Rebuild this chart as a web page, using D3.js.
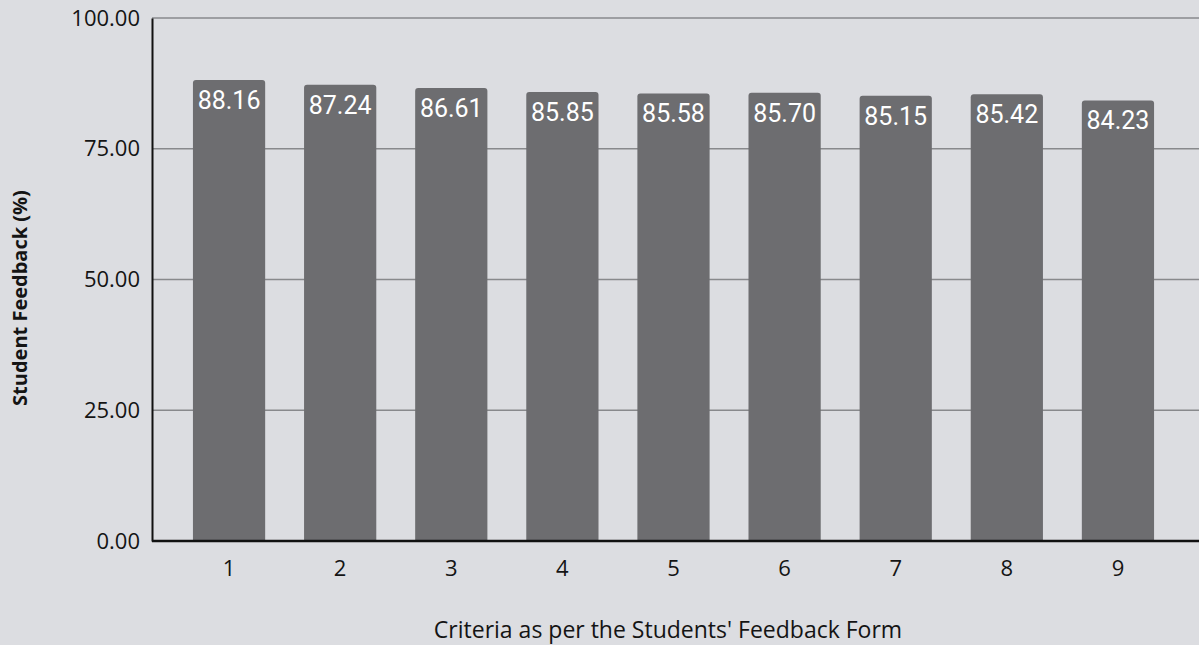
<!DOCTYPE html>
<html><head><meta charset="utf-8">
<script src="https://cdn.jsdelivr.net/npm/d3@7"></script>
<style>
html,body{margin:0;padding:0;background:#dcdde1;}
svg{display:block;}
</style></head>
<body>
<svg id="chart" width="1199" height="645"></svg>
<script>
const categories = ["1","2","3","4","5","6","7","8","9"];
const values = [88.16, 87.24, 86.61, 85.85, 85.58, 85.70, 85.15, 85.42, 84.23];
const yTicks = [0, 25, 50, 75, 100];
const yTitle = "Student Feedback (%)";
const xTitle = "Criteria as per the Students' Feedback Form";

(function () {
const svg = d3.select("#chart");
const W = 1199, H = 645;
const mLeft = 152, mRight = 1199, mTop = 18, mBottom = 541;

svg.append("rect").attr("width", W).attr("height", H).attr("fill", "#dcdde1");

const x = d3.scaleBand().domain(categories).range([173.5, 1173.5]).paddingInner(0.35).paddingOuter(0.175);
const y = d3.scaleLinear().domain([0, 100]).range([mBottom, mTop]);

// gridlines
svg.append("g").selectAll("line").data(yTicks.filter(d => d > 0)).join("line")
  .attr("x1", mLeft).attr("x2", mRight)
  .attr("y1", d => y(d)).attr("y2", d => y(d))
  .attr("stroke", "#88898c").attr("stroke-width", 1.5);

// bars
svg.append("g").selectAll("path").data(values).join("path")
  .attr("d", (d, i) => {
    const x0 = x(categories[i]), w = x.bandwidth(), y0 = y(d), r = 3;
    return `M${x0},${mBottom}V${y0 + r}Q${x0},${y0} ${x0 + r},${y0}H${x0 + w - r}Q${x0 + w},${y0} ${x0 + w},${y0 + r}V${mBottom}Z`;
  })
  .attr("fill", "#6d6d70");

// value labels
svg.append("g").selectAll("text").data(values).join("text")
  .attr("x", (d, i) => x(categories[i]) + x.bandwidth() / 2)
  .attr("y", d => y(d) + 29)
  .attr("text-anchor", "middle")
  .attr("font-family", "Roboto, sans-serif")
  .attr("font-size", 25)
  .attr("fill", "#ffffff")
  .text(d => d.toFixed(2));

// y axis
const yAxis = d3.axisLeft(y).tickValues(yTicks).tickFormat(d => d.toFixed(2)).tickSize(0).tickPadding(12);
const gy = svg.append("g").attr("transform", `translate(${mLeft},0)`).call(yAxis);
gy.select(".domain").attr("stroke", "#111").attr("stroke-width", 2);
gy.selectAll("text").attr("font-family", "'Open Sans', sans-serif").attr("font-size", 22).attr("fill", "#141414");

// x axis
const xAxis = d3.axisBottom(x).tickSize(0).tickPadding(19);
const gx = svg.append("g").attr("transform", `translate(0,${mBottom})`).call(xAxis);
gx.select(".domain").remove();
gx.append("line").attr("x1", mLeft).attr("x2", mRight).attr("y1", 0).attr("y2", 0)
  .attr("stroke", "#111").attr("stroke-width", 2.5);
gx.selectAll("text").attr("font-family", "'Open Sans', sans-serif").attr("font-size", 22).attr("fill", "#141414");

// titles
svg.append("text")
  .attr("transform", `translate(27,${298}) rotate(-90)`)
  .attr("text-anchor", "middle")
  .attr("font-family", "'Open Sans', sans-serif").attr("font-weight", "bold").attr("font-size", 20)
  .attr("fill", "#141414")
  .text(yTitle);

svg.append("text")
  .attr("x", 668).attr("y", 638)
  .attr("text-anchor", "middle")
  .attr("font-family", "'Open Sans', sans-serif").attr("font-size", 23)
  .attr("fill", "#141414")
  .text(xTitle);
})();
</script>
</body></html>
